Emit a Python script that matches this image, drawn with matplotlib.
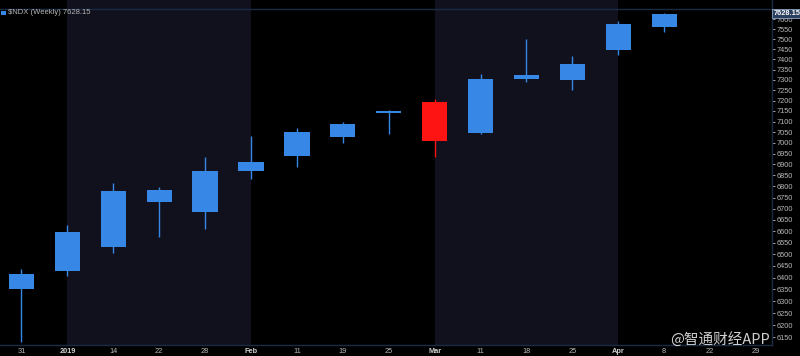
import numpy as np
import matplotlib
matplotlib.use("Agg")
import matplotlib.pyplot as plt
from matplotlib.ticker import FixedLocator, NullLocator, FuncFormatter

plt.rcParams['font.family'] = ['Liberation Sans', 'DejaVu Sans']

# weekly candles, $NDX
week_labels = ['31', '2019', '14', '22', '28', 'Feb', '11', '19', '25',
               'Mar', '11', '18', '25', 'Apr', '8', '22', '29']
bold_labels = ['2019', 'Feb', 'Mar', 'Apr']
opens  = [6350, 6427, 6530, 6730, 6687, 6871, 6937, 7027, 7139, 7191, 7046, 7305, 7298, 7448, 7563]
closes = [6417, 6597, 6781, 6784, 6870, 6910, 7052, 7090, 7148, 7009, 7305, 7325, 7376, 7578, 7628.15]
highs  = [6437, 6627, 6814, 6799, 6934, 7032, 7068, 7096, 7155, 7206, 7328, 7502, 7417, 7590, 7633]
lows   = [6132, 6406, 6506, 6575, 6608, 6832, 6889, 6998, 7040, 6936, 7040, 7291, 7251, 7420, 7534]
last_price = 7628.15
price_ticks = list(range(6150, 7601, 50))

blue = '#3787e6'
red = '#ff1414'
navy = '#11111d'
line_col = '#1c2b44'
txt_col = '#b8b8b8'

fig = plt.figure(figsize=(8, 3.56), dpi=100, facecolor='black')
ax = fig.add_axes([0, 11 / 356, 772 / 800, 1 - 11 / 356])
ax.set_facecolor('black')

x = np.arange(len(closes))
o = np.array(opens)
c = np.array(closes)
cols = [blue if cc >= oo else red for oo, cc in zip(o, c)]

ax.set_yscale('log')
ax.set_xlim(-0.468, 16.35)
ax.set_ylim(6119, 7698)

# month shading (Jan, Mar)
ax.axvspan(1, 5, color=navy, zorder=0, lw=0)
ax.axvspan(9, 13, color=navy, zorder=0, lw=0)
ax.axhline(7652, color=line_col, lw=1, zorder=1)

ax.vlines(x, lows, highs, colors=cols, lw=1, zorder=2)
ax.bar(x, np.abs(c - o), bottom=np.minimum(o, c), width=0.55, color=cols, zorder=3)

for s in ['left', 'top']:
    ax.spines[s].set_visible(False)
for s in ['right', 'bottom']:
    ax.spines[s].set_color(line_col)
    ax.spines[s].set_linewidth(1)

ax.set_xticks(x.tolist() + [15, 16])
ax.set_xticklabels(week_labels)
ax.tick_params(axis='x', length=0, pad=2, labelsize=5.3, colors=txt_col)
for lab in ax.get_xticklabels():
    if lab.get_text() in bold_labels:
        lab.set_fontweight('bold')
        lab.set_color('#d0d0d0')

ax.yaxis.tick_right()
ax.yaxis.set_major_locator(FixedLocator(price_ticks))
ax.yaxis.set_minor_locator(NullLocator())
ax.yaxis.set_major_formatter(FuncFormatter(lambda v, p: '%d' % v))
ax.tick_params(axis='y', length=2, pad=1, labelsize=5.3, colors=txt_col, width=0.6)

ax.text(1.002, last_price, '%.2f' % last_price, transform=ax.get_yaxis_transform(),
        va='center', ha='left', fontsize=5.3, fontweight='bold', color='white', zorder=5,
        bbox=dict(boxstyle='square,pad=0.15', facecolor='#2b3f5f', edgecolor='#8fa8c8', lw=0.6),
        clip_on=False)

# small symbol icon + header
fig.patches.append(plt.Rectangle((1 / 800, 1 - 15 / 356), 5 / 800, 4 / 356,
                                 transform=fig.transFigure, color=blue, lw=0))
fig.text(8 / 800, 1 - 13 / 356, r'\$NDX (Weekly) 7628.15', va='center', ha='left',
         fontsize=5.5, color=txt_col)
fig.text(770 / 800, 1 - 339 / 356, '@智通财经APP', va='center', ha='right', fontsize=10.5,
         color='#e8e8e8', alpha=0.9, family=['Noto Sans CJK SC', 'DejaVu Sans'])

fig.savefig('out.png', dpi=100, facecolor='black')
